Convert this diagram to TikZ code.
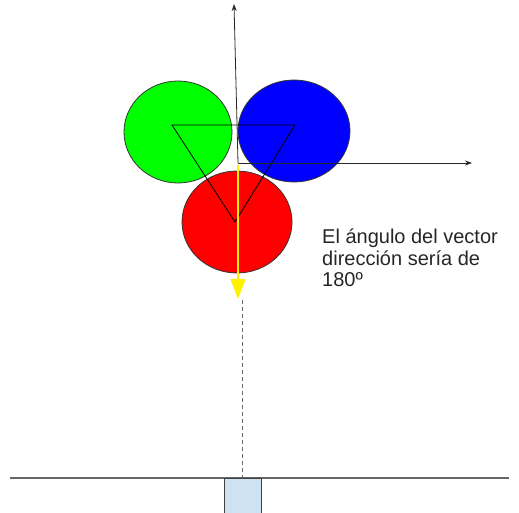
\documentclass[tikz,border=0pt]{standalone}
\usepackage{fontspec}
\setmainfont{Liberation Sans}
\usetikzlibrary{arrows.meta}
\definecolor{gnd}{HTML}{666666}
\definecolor{boxfill}{HTML}{CFE2F3}
\begin{document}
\begin{tikzpicture}[x=1pt,y=-1pt,
  ball/.style={draw=black!80,line width=0.8pt},
  axis/.style={draw=black!85,line width=0.8pt,-{Stealth[length=7pt,width=5pt]}},
  lbl/.style={font=\fontsize{20}{21.5}\selectfont,align=left,anchor=north west,inner sep=0pt,text=black!85}]
\useasboundingbox (0,0) rectangle (519,513);
% circles
\fill[green] (178,132) ellipse [x radius=54,y radius=51];
\draw[ball] (178,132) ellipse [x radius=54,y radius=51];
\fill[blue] (294,131) ellipse [x radius=56,y radius=51];
\draw[ball] (294,131) ellipse [x radius=56,y radius=51];
\fill[red] (237,222) ellipse [x radius=55,y radius=51];
\draw[ball] (237,222) ellipse [x radius=55,y radius=51];
% triangle
\coordinate (t1) at (172,125);
\coordinate (t2) at (295,125);
\coordinate (t3) at (235,222);
\draw[black,line width=0.8pt] (t1) -- (t2) -- (t3) -- cycle;
% axes
\coordinate (o) at (238,163);
\coordinate (ytip) at (234,4);
\coordinate (xtip) at (472,163);
\draw[axis] (o) -- (ytip);
\draw[axis] (o) -- (xtip);
% yellow arrow
\coordinate (ys) at (238,165);
\coordinate (ye) at (238,299);
\draw[yellow,line width=1.6pt,-{Triangle[length=20pt,width=15pt]}] (ys) -- (ye);
% dashed line
\coordinate (ds) at (242,300);
\coordinate (de) at (242,477);
\draw[gnd,dashed,line width=0.8pt,dash pattern=on 4pt off 3pt] (ds) -- (de);
% ground
\coordinate (g1) at (10,478);
\coordinate (g2) at (509,478);
\draw[gnd,line width=1.2pt] (g1) -- (g2);
\node[draw=black!75,fill=boxfill,line width=1.2pt,minimum width=37pt,minimum height=40pt,inner sep=0pt,anchor=north west] (box) at (224,478) {};
% text
\node[lbl] (txt) at (322,229) {El ángulo del vector\\dirección sería de\\180º};
\end{tikzpicture}
\end{document}
